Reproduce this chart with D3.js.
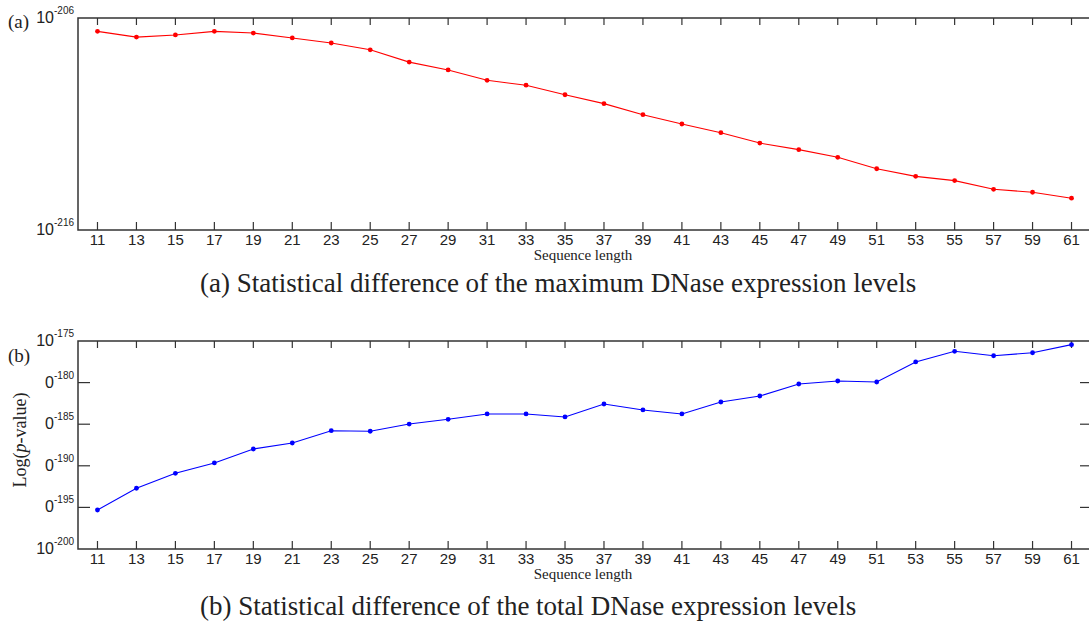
<!DOCTYPE html>
<html>
<head>
<meta charset="utf-8">
<script src="https://cdn.jsdelivr.net/npm/d3@7"></script>
<style>
  body { margin: 0; background: #fff; }
  svg { display: block; }
  .tick-label { font-family: "Liberation Sans", Arial, sans-serif; font-size: 15px; fill: #222; }
  .serif { font-family: "Liberation Serif", "Times New Roman", serif; fill: #222; }
</style>
</head>
<body>
<div id="chart"></div>
<script>
// sequence lengths on the x axis
const lengths = d3.range(11, 62, 2)

// exponents of the p-values (log10)
const maxExpr = [-206.63, -206.90, -206.80, -206.63, -206.71, -206.94, -207.18, -207.50, -208.08,
  -208.45, -208.94, -209.17, -209.62, -210.04, -210.56, -211.00, -211.41, -211.90, -212.21,
  -212.57, -213.11, -213.47, -213.67, -214.08, -214.22, -214.50]
const totalExpr = [-195.31, -192.70, -190.90, -189.66, -187.98, -187.26, -185.78, -185.85, -184.98,
  -184.41, -183.77, -183.77, -184.13, -182.57, -183.29, -183.77, -182.33, -181.61, -180.17,
  -179.81, -179.93, -177.52, -176.24, -176.77, -176.41, -175.44]

// tick labels of the y axes: [base shown, exponent]
const yTicksA = [["10", -206], ["10", -216]]
const yTicksB = [["10", -175], ["0", -180], ["0", -185], ["0", -190], ["0", -195], ["10", -200]]

const width = 1089
const height = 626

const svg = d3.select("#chart").append("svg")
  .attr("width", width)
  .attr("height", height)

/**
 * Draws one boxed panel with a line of exponents
 */
function drawPanel ({ top, bottom, domain, values, color, yTicks, tag, tagY, caption, captionY, rightTicks }) {
  const left = 78
  const right = 1091

  const x = d3.scaleLinear().domain([10, 62]).range([left, right])
  const y = d3.scaleLinear().domain(domain).range([bottom, top])

  const g = svg.append("g")

  // frame
  g.append("rect")
    .attr("x", left).attr("y", top)
    .attr("width", right - left).attr("height", bottom - top)
    .attr("fill", "none").attr("stroke", "#333").attr("stroke-width", 1.5)

  // x ticks, inward at top and bottom
  g.append("g").selectAll("line")
    .data(lengths)
    .enter().append("line")
    .attr("x1", d => x(d)).attr("x2", d => x(d))
    .attr("y1", bottom).attr("y2", bottom - 8)
    .attr("stroke", "#333").attr("stroke-width", 1.2)
  g.append("g").selectAll("line")
    .data(lengths)
    .enter().append("line")
    .attr("x1", d => x(d)).attr("x2", d => x(d))
    .attr("y1", top).attr("y2", top + 7)
    .attr("stroke", "#333").attr("stroke-width", 1.2)

  g.append("g").selectAll("text")
    .data(lengths)
    .enter().append("text")
    .attr("class", "tick-label")
    .attr("x", d => x(d))
    .attr("y", bottom + 15)
    .attr("text-anchor", "middle")
    .text(d => d)

  // y ticks, inward on both sides
  const inner = rightTicks ? yTicks.slice(1, -1) : []
  g.append("g").selectAll("line")
    .data(inner)
    .enter().append("line")
    .attr("x1", left).attr("x2", left + 12)
    .attr("y1", d => y(d[1])).attr("y2", d => y(d[1]))
    .attr("stroke", "#333").attr("stroke-width", 1.2)
  g.append("g").selectAll("line")
    .data(inner)
    .enter().append("line")
    .attr("x1", width).attr("x2", width - 9)
    .attr("y1", d => y(d[1])).attr("y2", d => y(d[1]))
    .attr("stroke", "#333").attr("stroke-width", 1.2)

  const labels = g.append("g").selectAll("text")
    .data(yTicks)
    .enter().append("text")
    .attr("class", "tick-label")
    .attr("x", 74)
    .attr("y", d => y(d[1]) + 5)
    .attr("text-anchor", "end")
  labels.append("tspan")
    .style("font-size", "16px")
    .text(d => d[0])
  labels.append("tspan")
    .attr("dy", -9)
    .style("font-size", "10px")
    .text(d => "-" + Math.abs(d[1]))

  // panel tag
  g.append("text")
    .attr("class", "serif")
    .attr("x", 8).attr("y", tagY)
    .style("font-size", "19px")
    .text(tag)

  // axis title
  g.append("text")
    .attr("class", "serif")
    .attr("x", 583)
    .attr("y", bottom + 30)
    .attr("text-anchor", "middle")
    .style("font-size", "15px")
    .text("Sequence length")

  // caption
  g.append("text")
    .attr("class", "serif")
    .attr("x", 200)
    .attr("y", captionY)
    .style("font-size", "27px")
    .text(caption)

  // series
  const line = d3.line()
    .x((d, i) => x(lengths[i]))
    .y(d => y(d))

  g.append("path")
    .datum(values)
    .attr("fill", "none")
    .attr("stroke", color)
    .attr("stroke-width", 1.1)
    .attr("d", line)

  g.append("g").selectAll("circle")
    .data(values)
    .enter().append("circle")
    .attr("cx", (d, i) => x(lengths[i]))
    .attr("cy", d => y(d))
    .attr("r", 2.4)
    .attr("fill", color)
}

drawPanel({
  top: 18, bottom: 230, domain: [-216, -206],
  values: maxExpr, color: "#ff0000", yTicks: yTicksA, tag: "(a)", tagY: 28,
  caption: "(a) Statistical difference of the maximum DNase expression levels",
  captionY: 292, rightTicks: false
})

drawPanel({
  top: 341, bottom: 549, domain: [-200, -175],
  values: totalExpr, color: "#0000ff", yTicks: yTicksB, tag: "(b)", tagY: 362,
  caption: "(b) Statistical difference of the total DNase expression levels",
  captionY: 615, rightTicks: true
})

// y axis title of panel (b)
const yTitle = svg.append("text")
  .attr("class", "serif")
  .attr("transform", "translate(26,440) rotate(-90)")
  .attr("text-anchor", "middle")
  .style("font-size", "18px")
yTitle.append("tspan").text("Log(")
yTitle.append("tspan").style("font-style", "italic").text("p")
yTitle.append("tspan").text("-value)")
</script>
</body>
</html>
